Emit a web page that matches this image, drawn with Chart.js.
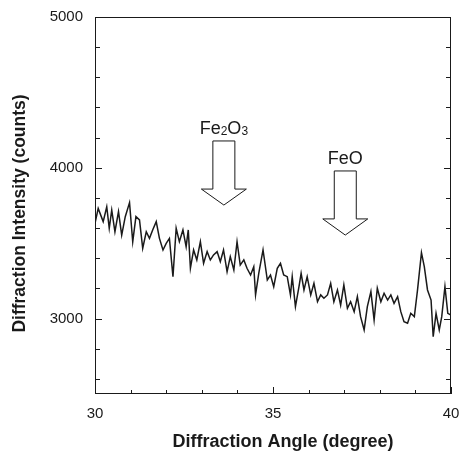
<!DOCTYPE html>
<html>
<head>
<meta charset="utf-8">
<script src="https://cdn.jsdelivr.net/npm/chart.js@4.4.1/dist/chart.umd.min.js"></script>
<style>
  html, body { margin: 0; padding: 0; background: #fff; overflow: hidden; }
  #wrap { width: 461px; height: 457px; }
</style>
</head>
<body>
<div id="wrap"><canvas id="xrd"></canvas></div>
<script>
const angle = [
    30.00, 30.09, 30.23, 30.33, 30.40, 30.47, 30.56, 30.66, 30.75, 30.85,
    30.97, 31.06, 31.15, 31.25, 31.34, 31.44, 31.53, 31.62, 31.72, 31.81,
    31.91, 32.00, 32.09, 32.19, 32.28, 32.37, 32.47, 32.56, 32.62, 32.68,
    32.77, 32.86, 32.96, 33.05, 33.15, 33.24, 33.33, 33.43, 33.52, 33.61,
    33.71, 33.80, 33.90, 33.99, 34.08, 34.18, 34.27, 34.37, 34.46, 34.51,
    34.60, 34.72, 34.84, 34.93, 35.02, 35.12, 35.21, 35.30, 35.40, 35.49,
    35.54, 35.63, 35.73, 35.79, 35.87, 35.96, 36.06, 36.15, 36.25, 36.34,
    36.43, 36.53, 36.62, 36.71, 36.81, 36.90, 36.99, 37.09, 37.18, 37.28,
    37.37, 37.46, 37.56, 37.65, 37.75, 37.84, 37.93, 38.03, 38.12, 38.22,
    38.31, 38.40, 38.50, 38.59, 38.68, 38.78, 38.87, 38.97, 39.06, 39.17,
    39.25, 39.34, 39.44, 39.50, 39.58, 39.67, 39.74, 39.83, 39.91, 40.00,
];
const counts = [
    3632, 3731, 3643, 3742, 3599, 3720, 3576, 3709, 3554, 3676,
    3769, 3510, 3676, 3654, 3466, 3576, 3532, 3588, 3643, 3532,
    3455, 3499, 3532, 3278, 3599, 3510, 3588, 3477, 3588, 3334,
    3455, 3389, 3510, 3367, 3444, 3389, 3422, 3444, 3378, 3455,
    3311, 3411, 3322, 3510, 3355, 3389, 3334, 3289, 3344, 3157,
    3300, 3455, 3256, 3289, 3212, 3334, 3367, 3289, 3278, 3157,
    3278, 3079, 3212, 3300, 3190, 3278, 3157, 3234, 3112, 3157,
    3135, 3157, 3234, 3112, 3190, 3090, 3223, 3068, 3112, 3046,
    3146, 3013, 2925, 3079, 3179, 2991, 3201, 3112, 3168, 3123,
    3157, 3101, 3146, 3046, 2980, 2969, 3035, 3013, 3190, 3437,
    3344, 3190, 3123, 2880, 3035, 2925, 3013, 3212, 3035, 3024,
];

// ── Ejes ──────────────────────────────────────────────────────
const xTicks = [30, 35, 40];
const yTicks = [3000, 4000, 5000];

// ── Flechas de fases (en unidades de datos) ───────────────────
const arrowLabel = ['Fe2O3', 'FeO'];
const arrowX     = [33.62, 37.03];
const arrowTop   = [4178, 3979];
const arrowHead  = [3859, 3661];
const arrowTip   = [3753, 3554];

const INK = '#1a1a1a';
const FONT = '"Liberation Sans", Arial, Helvetica, sans-serif';

// marco + ticks hacia dentro + títulos + flechas
const framePlugin = {
    id: 'frame',
    afterDraw(chart) {
        const { ctx, chartArea: a, scales: { x, y } } = chart;
        ctx.save();
        ctx.strokeStyle = INK;
        ctx.lineWidth = 1;
        ctx.strokeRect(a.left + 0.5, a.top + 0.5, a.right - a.left - 1, a.bottom - a.top - 1);

        ctx.beginPath();
        for (let v = x.min; v <= x.max + 1e-9; v += 1) {
            const px = Math.round(x.getPixelForValue(v)) + 0.5;
            const len = v % 5 === 0 ? 7 : 4;
            ctx.moveTo(px, a.bottom);
            ctx.lineTo(px, a.bottom - len);
        }
        for (let v = 2600; v < y.max; v += 200) {
            const py = Math.round(y.getPixelForValue(v)) + 0.5;
            const len = v % 1000 === 0 ? 7 : 5;
            ctx.moveTo(a.left, py);  ctx.lineTo(a.left + len, py);
            ctx.moveTo(a.right, py); ctx.lineTo(a.right - len, py);
        }
        ctx.stroke();

        // títulos de ejes
        ctx.fillStyle = INK;
        ctx.font = `bold 18px ${FONT}`;
        ctx.textAlign = 'center';
        ctx.textBaseline = 'middle';
        ctx.fillText('Diffraction Angle (degree)', (a.left + a.right) / 2 + 10, a.bottom + 48);
        ctx.save();
        ctx.translate(20, (a.top + a.bottom) / 2 + 8);
        ctx.rotate(-Math.PI / 2);
        ctx.font = `bold 17.5px ${FONT}`;
        ctx.fillText('Diffraction Intensity (counts)', 0, 0);
        ctx.restore();

        // flechas huecas
        arrowLabel.forEach((label, i) => {
            const cx = x.getPixelForValue(arrowX[i]);
            const t = y.getPixelForValue(arrowTop[i]);
            const h = y.getPixelForValue(arrowHead[i]);
            const p = y.getPixelForValue(arrowTip[i]);
            ctx.beginPath();
            ctx.moveTo(cx - 11, t);
            ctx.lineTo(cx + 11, t);
            ctx.lineTo(cx + 11, h);
            ctx.lineTo(cx + 22.5, h);
            ctx.lineTo(cx, p);
            ctx.lineTo(cx - 22.5, h);
            ctx.lineTo(cx - 11, h);
            ctx.closePath();
            ctx.fillStyle = '#fff';
            ctx.fill();
            ctx.strokeStyle = INK;
            ctx.lineWidth = 1;
            ctx.stroke();
            drawFormula(ctx, label, cx, t - 7);
        });
        ctx.restore();
    },
};

// dígitos como subíndices
function drawFormula(ctx, text, cx, baseline) {
    const parts = text.match(/[A-Za-z]+|\d+/g);
    const big = `18px ${FONT}`, small = `12px ${FONT}`;
    let w = 0;
    parts.forEach(s => { ctx.font = /\d/.test(s) ? small : big; w += ctx.measureText(s).width; });
    let px = cx - w / 2;
    ctx.fillStyle = INK;
    ctx.textAlign = 'left';
    ctx.textBaseline = 'alphabetic';
    parts.forEach(s => {
        const sub = /\d/.test(s);
        ctx.font = sub ? small : big;
        ctx.fillText(s, px, baseline + (sub ? 1 : 0));
        px += ctx.measureText(s).width;
    });
}

new Chart(document.getElementById('xrd'), {
    type: 'line',
    data: {
        datasets: [{
            data: angle.map((a, i) => ({ x: a, y: counts[i] })),
            borderColor: INK,
            borderWidth: 1.5,
            pointRadius: 0,
            tension: 0,
            fill: false,
        }],
    },
    options: {
        responsive: true,
        maintainAspectRatio: false,
        animation: false,
        layout: { padding: { left: 0, right: 10, top: 17, bottom: 0 } },
        plugins: { legend: { display: false }, tooltip: { enabled: false } },
        scales: {
            x: {
                type: 'linear',
                min: 30, max: 40,
                afterBuildTicks: s => { s.ticks = xTicks.map(v => ({ value: v })); },
                afterFit: s => { s.height = 63; s.paddingLeft = 0; s.paddingRight = 0; },
                grid: { display: false, drawTicks: false },
                border: { display: false },
                ticks: { color: INK, font: { family: FONT, size: 15 }, padding: 11, maxRotation: 0,
                         callback: v => String(v) },
            },
            y: {
                min: 2500, max: 5000,
                afterBuildTicks: s => { s.ticks = yTicks.map(v => ({ value: v })); },
                afterFit: s => { s.width = 95; s.paddingTop = 0; s.paddingBottom = 0; },
                grid: { display: false, drawTicks: false },
                border: { display: false },
                ticks: { color: INK, font: { family: FONT, size: 15 }, padding: 12,
                         callback: v => String(v) },
            },
        },
    },
    plugins: [framePlugin],
});
</script>
</body>
</html>
